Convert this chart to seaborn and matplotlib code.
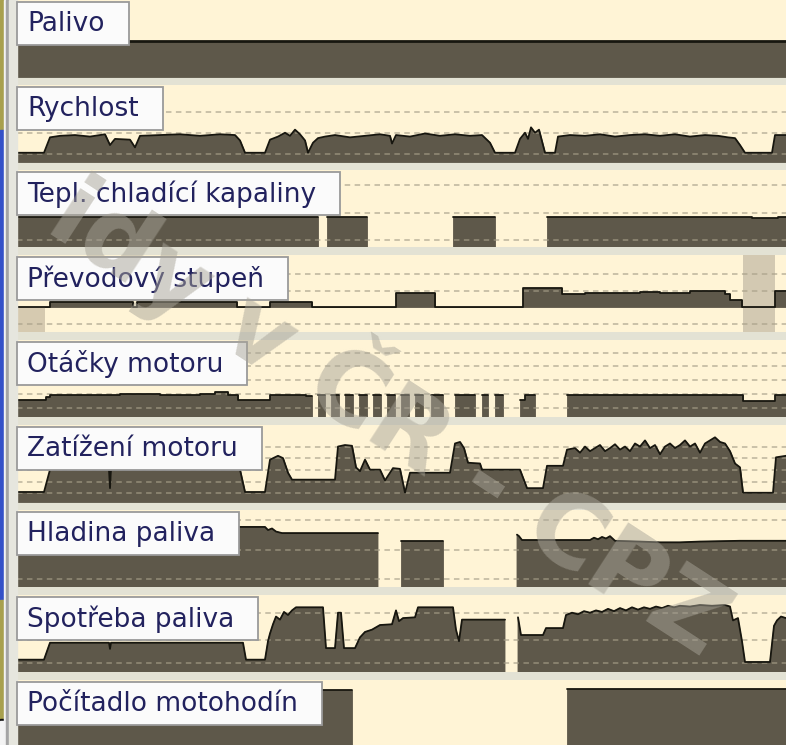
import numpy as np
import matplotlib
matplotlib.use("Agg")
import matplotlib.pyplot as plt
from matplotlib.patches import Rectangle
import seaborn as sns

W, H = 786, 745
T0, T1 = 17, 786          # casova osa (vzorky)
N = None                  # bez dat

nazvy = ["Palivo", "Rychlost", "Tepl. chladící kapaliny", "Převodový stupeň",
         "Otáčky motoru", "Zatížení motoru", "Hladina paliva", "Spotřeba paliva",
         "Počítadlo motohodín"]

# schody: (zacatek useku, hodnota) -- posledni bod je jen konec
palivo = [(17, 47), (786, N)]
tepl = [(17, 39), (318, N), (327, 39), (367, N), (453, 39), (495, N), (547, 39),
        (752, 38), (778, 39), (786, N)]
prevod = [(17, -32), (45, 0), (50, 6.5), (133, 0), (137, 6.5), (237, 0), (270, 6.5),
          (312, 0), (396, 18), (435, 0), (523, 25), (562, 17), (585, 18), (640, 19.5),
          (660, 18), (690, 21), (725, 17), (730, 9), (742, 0), (775, 21), (786, N)]
prevod_oznaceni = [(743, 775)]
otacky = [(17, 22), (46, 26), (50, 29), (120, 30), (160, 29), (200, 30), (215, 32),
          (228, 29), (238, 22), (266, 22), (270, 29), (306, 27), (312, N), (318, 29),
          (325, N), (331, 29), (339, N), (345, 29), (353, N), (359, 29), (367, N),
          (373, 29), (381, N), (387, 29), (395, N), (401, 29), (409, N), (415, 29),
          (423, N), (431, 29), (443, N), (455, 29), (475, N), (482, 29), (488, N),
          (495, 29), (503, N), (520, 22), (525, 29), (535, N), (567, 29), (743, 21),
          (775, 29), (786, N)]
pocitadlo = [(17, 87), (352, N), (567, 88), (786, N)]

# spojite prubehy: (cas, hodnota)
rychlost = [(17, 12), (44, 12), (50, 32), (60, 34), (75, 35), (90, 33), (105, 36), (110, 22),
            (115, 30), (130, 29), (135, 19), (140, 34), (160, 35), (180, 36), (200, 34),
            (220, 36), (235, 35), (240, 28), (245, 12), (265, 12), (270, 29), (278, 33),
            (285, 38), (290, 34), (295, 42), (300, 36), (305, 28), (308, 12), (313, 25),
            (318, 31), (325, 33), (335, 35), (350, 32), (365, 34), (380, 36), (390, 34),
            (392, 24), (396, 35), (410, 33), (425, 37), (440, 34), (455, 36), (470, 34),
            (482, 35), (490, 25), (495, 12), (515, 12), (520, 30), (525, 38), (528, 30),
            (531, 45), (535, 38), (539, 42), (545, 12), (555, 12), (558, 33), (570, 35),
            (585, 34), (600, 36), (615, 33), (630, 35), (645, 36), (660, 34), (675, 36),
            (690, 33), (705, 35), (718, 34), (728, 32), (735, 31), (740, 22), (745, 12),
            (772, 12), (775, 35), (786, 35)]
zatizeni = [(17, 13), (44, 13), (50, 42), (109, 42), (110, 18), (111, 42), (240, 42),
            (245, 13), (265, 13), (270, 55), (278, 60), (283, 57), (288, 38), (292, 29),
            (335, 29), (338, 72), (345, 74), (352, 73), (356, 45), (360, 40), (365, 55),
            (370, 42), (380, 42), (385, 28), (393, 44), (400, 43), (405, 12), (410, 38),
            (450, 38), (455, 76), (460, 78), (464, 70), (468, 51), (480, 50), (482, 42),
            (520, 42), (527, 18), (543, 18), (547, 47), (563, 47), (567, 68), (575, 70),
            (580, 64), (585, 72), (590, 66), (595, 70), (600, 74), (605, 66), (610, 70),
            (615, 75), (620, 68), (625, 72), (630, 66), (635, 76), (640, 72), (645, 80),
            (650, 70), (655, 74), (660, 62), (665, 72), (670, 76), (675, 70), (680, 74),
            (685, 80), (690, 72), (695, 76), (700, 64), (705, 76), (710, 80), (715, 84),
            (720, 78), (725, 76), (730, 66), (735, 50), (740, 45), (743, 12), (773, 12),
            (776, 58), (786, 60)]
hladina = [(17, 78), (265, 78), (268, 74), (272, 76), (276, 72), (282, 70), (378, 70),
           (379, N), (401, 60), (443, 60), (444, N), (517, 68), (519, 66), (522, 61),
           (590, 61), (594, 64), (598, 62), (602, 65), (606, 63), (610, 66), (615, 60),
           (640, 59), (660, 58), (680, 58), (700, 59), (740, 60), (786, 60)]
spotreba = [(17, 16), (44, 16), (50, 38), (109, 38), (110, 30), (111, 38), (243, 38),
            (246, 16), (265, 16), (268, 40), (270, 50), (273, 62), (276, 72), (280, 68),
            (284, 78), (288, 74), (292, 80), (296, 84), (323, 84), (326, 31), (335, 31),
            (338, 77), (341, 77), (344, 31), (355, 31), (360, 45), (365, 52), (372, 55),
            (380, 61), (392, 62), (396, 80), (399, 66), (403, 70), (415, 71), (418, 84),
            (453, 84), (456, 55), (459, 40), (462, 68), (505, 68), (506, N), (518, 71),
            (521, 48), (543, 48), (546, 57), (563, 57), (566, 74), (572, 77), (578, 75),
            (584, 79), (590, 77), (596, 80), (602, 78), (608, 82), (614, 79), (620, 83),
            (626, 80), (632, 84), (638, 81), (644, 84), (650, 82), (656, 85), (662, 83),
            (668, 86), (674, 84), (680, 86), (690, 85), (700, 87), (712, 86), (725, 87),
            (730, 85), (733, 67), (738, 70), (742, 40), (745, 13), (770, 13), (774, 60),
            (777, 67), (781, 72), (786, 70)]

# urovne carkovane mrizky v kazdem pasu
mrizka = [[], [65, 38, 10], [80, 44, 9], [43, 21, -22], [83, 66, 48, 30, 12],
          [71, 57, 42, 26, 12], [87, 48, 10], [77, 42, 12], []]

kanaly = [(palivo, "schody"), (rychlost, "cara"), (tepl, "schody"), (prevod, "schody"),
          (otacky, "schody"), (zatizeni, "cara"), (hladina, "cara"), (spotreba, "cara"),
          (pocitadlo, "schody")]

KREM = "#FFF4D6"
VYPLN = "#5E584A"
OBRYS = "#17160F"


def rozbal(body, druh):
    if druh == "schody":
        t, v = [], []
        for (ta, va), (tb, _) in zip(body[:-1], body[1:]):
            h = np.nan if va is None else va
            t += [ta, tb]
            v += [h, h]
    else:
        t = [p[0] for p in body]
        v = [np.nan if p[1] is None else p[1] for p in body]
    return np.array(t, float), np.array(v, float)


def useky(t, v):
    ok = np.isfinite(v)
    i = 0
    while i < len(v):
        if ok[i]:
            j = i
            while j < len(v) and ok[j]:
                j += 1
            yield t[i:j], v[i:j]
            i = j
        else:
            i += 1


sns.set_style("white")
plt.rcParams['font.family'] = ['DejaVu Sans']

fig = plt.figure(figsize=(W / 100, H / 100), dpi=100)
fig.patch.set_facecolor("#E3E2D4")


def fx(px):
    return px / W


def fy(py):
    return 1 - py / H


# okraj okna vlevo
for x0, x1, y0, y1, c in [(0, 4, 0, 130, "#A8A04E"), (0, 4, 130, 600, "#3450C8"),
                          (0, 4, 600, 720, "#A8A04E"), (0, 8, 719, 721, "#111111"),
                          (0, 4, 721, 745, "#F4F4F4"), (4, 6, 0, 745, "#F2F2F2"),
                          (6, 9, 0, 745, "#A4A4A4"), (9, 17, 0, 745, "#E6E6DE")]:
    fig.patches.append(Rectangle((fx(x0), fy(y1)), fx(x1 - x0), (y1 - y0) / H,
                                 transform=fig.transFigure, color=c, zorder=1))

renderer = fig.canvas.get_renderer()

for i, (nazev, (body, druh), urovne) in enumerate(zip(nazvy, kanaly, mrizka)):
    top = 85 * i
    ax = fig.add_axes([fx(T0), fy(top + 77), fx(T1 - T0), 77 / H])
    ax.set_facecolor(KREM)
    ax.set_xlim(T0, T1)
    if nazev == "Převodový stupeň":
        ax.set_ylim(-32.5, 67.5)
    else:
        ax.set_ylim(0, 100)
    ax.set_xticks([])
    ax.set_yticks([])
    for s in ax.spines.values():
        s.set_visible(False)

    t, v = rozbal(body, druh)
    kladne = np.where(np.isfinite(v), np.clip(v, 0, None), np.nan)
    ax.fill_between(t, 0, kladne, color=VYPLN, linewidth=0.6, zorder=2)
    if np.nanmin(v) < 0:
        ax.fill_between(t, np.clip(v, None, 0), 0, color="#D6CAB0", linewidth=0, zorder=2)
    if nazev == "Převodový stupeň":
        for a, b in prevod_oznaceni:
            ax.axvspan(a, b, color="#C9BFA9", alpha=0.8, linewidth=0, zorder=2.5)

    for y in urovne:
        ax.axhline(y, color="#A69E88", linewidth=1.1, linestyle=(0, (3.6, 2.9)),
                   alpha=0.75, zorder=3)

    lw = 2.0 if nazev == "Palivo" else 1.3
    for ts, vs in useky(t, kladne):
        sns.lineplot(x=ts, y=vs, estimator=None, sort=False, color=OBRYS,
                     linewidth=lw, ax=ax, zorder=4)

    # stitek kanalu
    txt = fig.text(fx(27), fy(top + 24), nazev, fontsize=19, color="#22225E",
                   ha="left", va="center", zorder=6)
    bb = txt.get_window_extent(renderer)
    x1 = bb.x1 + 24
    fig.patches.append(Rectangle((fx(17), fy(top + 45)), fx(x1 - 17), 43 / H,
                                 transform=fig.transFigure, facecolor="#FBFBFB",
                                 edgecolor="#9A9A9A", linewidth=1.3, zorder=5))

# vodoznak
fig.text(fx(392), fy(414), "idy v ČR - CPZ", rotation=-33, rotation_mode="anchor",
         ha="center", va="center", fontsize=72, fontweight="bold", color="#A8A498",
         alpha=0.5, zorder=10)

fig.savefig("out.png", dpi=100, facecolor=fig.get_facecolor())
